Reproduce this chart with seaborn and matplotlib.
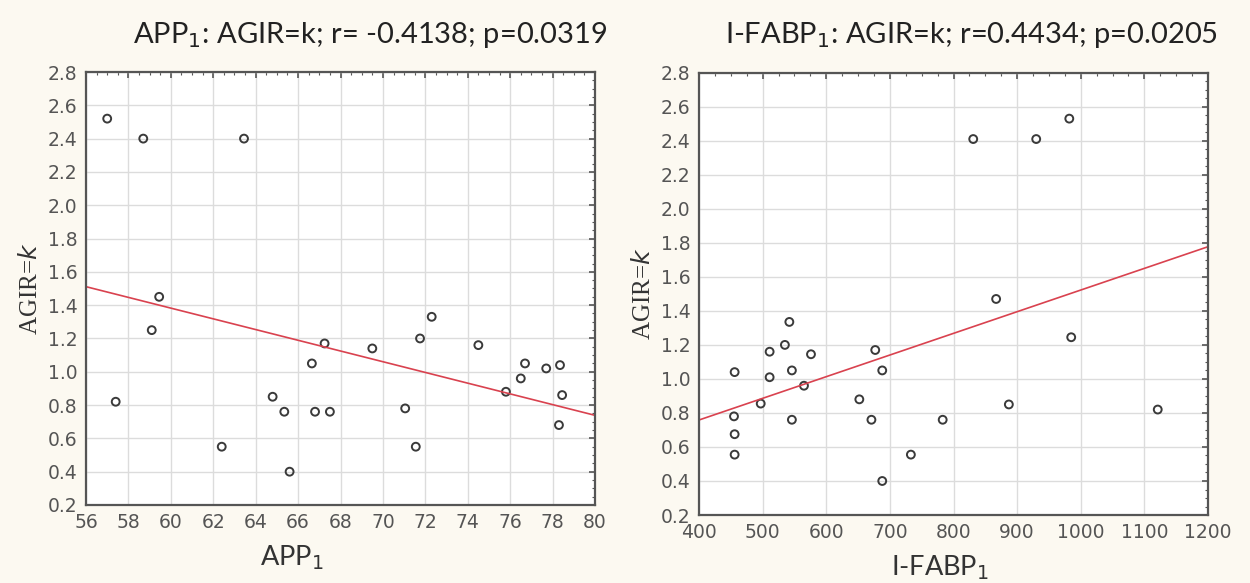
import matplotlib
matplotlib.use("Agg")
import matplotlib.pyplot as plt
import seaborn as sns
import numpy as np
from matplotlib.ticker import MultipleLocator

# APP1 vs AGIR=k
app1 = [57.0, 58.7, 63.45, 59.45, 59.1, 57.4, 62.4, 64.8, 65.35, 65.6,
        66.65, 66.8, 67.5, 67.25, 69.5, 71.05, 71.55, 71.75, 72.3, 74.5,
        75.8, 76.5, 76.7, 77.7, 78.35, 78.45, 78.3]
agir_app = [2.52, 2.40, 2.40, 1.45, 1.25, 0.82, 0.55, 0.85, 0.76, 0.40,
            1.05, 0.76, 0.76, 1.17, 1.14, 0.78, 0.55, 1.20, 1.33, 1.16,
            0.88, 0.96, 1.05, 1.02, 1.04, 0.86, 0.68]

# I-FABP1 vs AGIR=k
ifabp1 = [831, 930, 982, 867, 985, 887, 1121, 783,
          456, 455, 456, 456, 497, 511, 511, 535, 542, 546, 546, 565,
          576, 652, 671, 677, 688, 688, 733]
agir_fabp = [2.41, 2.41, 2.53, 1.47, 1.245, 0.85, 0.82, 0.76,
             1.04, 0.78, 0.675, 0.555, 0.855, 1.16, 1.01, 1.20, 1.335, 1.05, 0.76, 0.96,
             1.145, 0.88, 0.76, 1.17, 1.05, 0.40, 0.555]

titles = ["APP$_1$: AGIR=k; r= -0.4138; p=0.0319",
          "I-FABP$_1$: AGIR=k; r=0.4434; p=0.0205"]
xlabels = ["APP$_1$", "I-FABP$_1$"]

sns.set_theme(style="whitegrid")
plt.rcParams['font.family'] = ['DejaVu Sans']
plt.rcParams['mathtext.fontset'] = 'dejavusans'

fig = plt.figure(figsize=(12.5, 5.83), dpi=100, facecolor="#fcf9f1")
ax1 = fig.add_axes([0.0688, 0.1338, 0.4072, 0.7427])
ax2 = fig.add_axes([0.5592, 0.1166, 0.4072, 0.7587])

panels = [
    (ax1, app1, agir_app, (56, 80), 2, 0.405, -0.088, 0.558),
    (ax2, ifabp1, agir_fabp, (400, 1200), 100, 0.473, -0.086, 0.536),
]

for i, (ax, x, y, xlim, xstep, xlab_x, xlab_y, title_x) in enumerate(panels):
    ax.set_facecolor("white")
    ax.set_xlim(*xlim)
    ax.set_ylim(0.2, 2.8)
    sns.regplot(x=x, y=y, ax=ax, ci=None, truncate=False,
                scatter_kws={"color": "none", "edgecolors": "#3a3a3a",
                             "s": 32, "linewidths": 1.4, "alpha": 1},
                line_kws={"color": "#d9424f", "lw": 1.2})
    ax.set_xlim(*xlim)
    ax.set_ylim(0.2, 2.8)
    ax.xaxis.set_major_locator(MultipleLocator(xstep))
    ax.yaxis.set_major_locator(MultipleLocator(0.2))
    ax.xaxis.set_minor_locator(MultipleLocator(xstep / 4))
    ax.yaxis.set_minor_locator(MultipleLocator(0.05))
    ax.grid(True, which="major", color="#dcdcdc", lw=1)
    ax.grid(False, which="minor")
    for s in ax.spines.values():
        s.set_color("#555555")
        s.set_linewidth(1.6)
    ax.tick_params(which="both", direction="in", top=True, right=True,
                   colors="#555555", labelcolor="#555555")
    ax.tick_params(which="major", length=4, width=1.2, labelsize=13.5, pad=6)
    ax.tick_params(which="minor", length=2, width=0.8)
    for lab in ax.get_xticklabels() + ax.get_yticklabels():
        lab.set_family("DejaVu Sans")
    ax.set_xlabel(xlabels[i], fontsize=19.5, family="Lato", color="#333333")
    ax.xaxis.set_label_coords(xlab_x, xlab_y)
    ax.set_ylabel("AGIR=$\\it{k}$", fontsize=18, family="Liberation Serif",
                  color="#333333", labelpad=4)
    pos = ax.get_position()
    fig.text(pos.x0 + title_x * pos.width, 0.94, titles[i], fontsize=21,
             family="Lato", color="#222222", ha="center", va="center")

fig.savefig("out.png", dpi=100, facecolor=fig.get_facecolor())
